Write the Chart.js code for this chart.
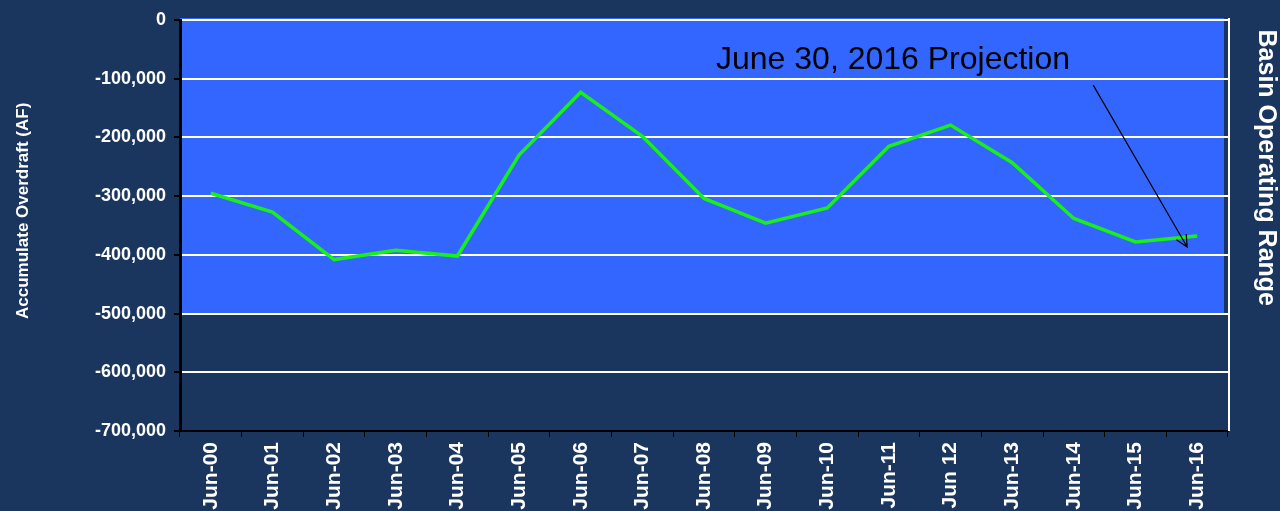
<!DOCTYPE html>
<html>
<head>
<meta charset="utf-8">
<script src="https://cdn.jsdelivr.net/npm/chart.js@4"></script>
<style>
  html, body { margin: 0; padding: 0; background: #1a365e; }
  #wrap { width: 1280px; height: 511px; }
</style>
</head>
<body>
<div id="wrap"><canvas id="c" width="1280" height="511"></canvas></div>
<script>
const categories = ['Jun-00','Jun-01','Jun-02','Jun-03','Jun-04','Jun-05','Jun-06','Jun-07','Jun-08','Jun-09','Jun-10','Jun-11','Jun 12','Jun-13','Jun-14','Jun-15','Jun-16'];
const overdraft = [-295000,-327000,-408000,-392000,-402000,-230000,-123000,-198000,-304000,-346000,-320000,-215000,-179000,-243000,-338000,-378000,-368000];
const yTicks = { min: -700000, max: 0, step: 100000 };
const operatingRange = [0, -500000];
const yTitle = 'Accumulate Overdraft (AF)';
const rangeLabel = 'Basin Operating Range';
const noteText = 'June 30, 2016 Projection';

const FONT = '"Liberation Sans", Arial, sans-serif';

const bgPlugin = {
  id: 'bg',
  beforeDraw(chart) {
    const { ctx, chartArea: a, scales: { y } } = chart;
    ctx.save();
    const top = y.getPixelForValue(operatingRange[0]);
    const bot = y.getPixelForValue(operatingRange[1]);
    ctx.fillStyle = '#3366ff';
    ctx.fillRect(a.left, top - 2, a.right - a.left - 4, bot - top + 2);
    ctx.restore();
  },
  afterDraw(chart) {
    const { ctx, chartArea: a, scales: { x, y } } = chart;
    ctx.save();
    // right border
    ctx.strokeStyle = '#ffffff';
    ctx.lineWidth = 2;
    ctx.beginPath();
    ctx.moveTo(a.right + 1, a.top - 2);
    ctx.lineTo(a.right + 1, a.bottom);
    ctx.stroke();
    // range label
    const top = y.getPixelForValue(operatingRange[0]);
    const bot = y.getPixelForValue(operatingRange[1]);
    ctx.fillStyle = '#ffffff';
    ctx.font = 'bold 25px ' + FONT;
    ctx.translate(a.right + 38, (top + bot) / 2 + 1);
    ctx.rotate(Math.PI / 2);
    ctx.textAlign = 'center';
    ctx.textBaseline = 'middle';
    ctx.fillText(rangeLabel, 0, 0);
    ctx.restore();

    // y-axis title
    ctx.save();
    ctx.fillStyle = '#ffffff';
    ctx.font = 'bold 17px ' + FONT;
    ctx.translate(23, y.getPixelForValue(-325000));
    ctx.rotate(-Math.PI / 2);
    ctx.textAlign = 'center';
    ctx.textBaseline = 'middle';
    ctx.fillText(yTitle, 0, 0);
    ctx.restore();

    // annotation text
    ctx.save();
    ctx.fillStyle = '#000000';
    ctx.font = '32px ' + FONT;
    ctx.textBaseline = 'middle';
    ctx.textAlign = 'left';
    ctx.fillText(noteText, x.getPixelForValue(8) + 12, y.getPixelForValue(-68000));
    // arrow
    const last = overdraft.length - 1;
    const tx = x.getPixelForValue(last) - 10;
    const ty = y.getPixelForValue(overdraft[last]) + 11;
    const sx = x.getPixelForValue(last) - 104;
    const sy = y.getPixelForValue(-111000);
    ctx.strokeStyle = '#000000';
    ctx.lineWidth = 1.2;
    ctx.beginPath();
    ctx.moveTo(sx, sy);
    ctx.lineTo(tx, ty);
    const ang = Math.atan2(ty - sy, tx - sx);
    const hl = 13, hw = 0.45;
    ctx.moveTo(tx - hl * Math.cos(ang - hw), ty - hl * Math.sin(ang - hw));
    ctx.lineTo(tx, ty);
    ctx.lineTo(tx - hl * Math.cos(ang + hw), ty - hl * Math.sin(ang + hw));
    ctx.stroke();
    ctx.restore();
  }
};

new Chart(document.getElementById('c'), {
  type: 'line',
  data: {
    labels: categories,
    datasets: [{
      data: overdraft,
      borderColor: '#19f019',
      borderWidth: 3.5,
      pointRadius: 0,
      tension: 0,
      fill: false
    }]
  },
  options: {
    responsive: false,
    animation: false,
    devicePixelRatio: 1,
    layout: { padding: { top: 20, right: 52, left: 0, bottom: 0 } },
    plugins: { legend: { display: false }, tooltip: { enabled: false } },
    scales: {
      x: {
        offset: true,
        afterFit(s) { s.height = 80; },
        grid: { drawOnChartArea: false, drawTicks: true, tickLength: 6, tickColor: '#000000', offset: true },
        border: { color: '#000000', width: 2 },
        ticks: {
          color: '#ffffff',
          minRotation: 90, maxRotation: 90,
          autoSkip: false,
          padding: 5,
          font: { family: FONT, size: 21, weight: 'bold' }
        }
      },
      y: {
        min: yTicks.min, max: yTicks.max,
        afterFit(s) { s.width = 180; },
        grid: { color: '#ffffff', lineWidth: 2, tickColor: '#000000', tickLength: 6 },
        border: { color: '#000000', width: 3 },
        ticks: {
          stepSize: yTicks.step,
          color: '#ffffff',
          padding: 8,
          font: { family: FONT, size: 18, weight: 'bold' },
          callback: v => v.toLocaleString('en-US')
        }
      }
    }
  },
  plugins: [bgPlugin]
});
</script>
</body>
</html>
